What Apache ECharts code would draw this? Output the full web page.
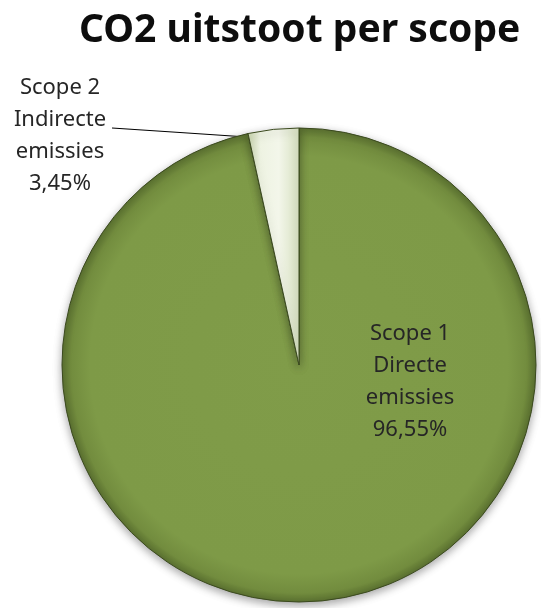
<!DOCTYPE html>
<html>
<head>
<meta charset="utf-8">
<script src="https://cdn.jsdelivr.net/npm/echarts@6/dist/echarts.min.js"></script>
<style>
html,body{margin:0;padding:0;background:#fff;}
#chart{width:541px;height:608px;}
</style>
</head>
<body>
<div id="chart"></div>
<script>
var titleText = 'CO2 uitstoot per scope';
var scopeNames = ['Scope 1', 'Scope 2'];
var scopeTypes = ['Directe emissies', 'Indirecte emissies'];
var shares = [96.55, 3.45];

var chart = echarts.init(document.getElementById('chart'), null, {renderer: 'canvas'});

var greenFill = {
  type: 'radial', x: 0.5, y: 0.5, r: 0.5,
  colorStops: [
    {offset: 0, color: '#809C49'},
    {offset: 0.88, color: '#7E9A47'},
    {offset: 0.96, color: '#728C3E'},
    {offset: 1, color: '#5A7030'}
  ]
};
var lightFill = {
  type: 'linear', x: 0, y: 0, x2: 1, y2: 0,
  colorStops: [
    {offset: 0, color: '#C8D5AC'},
    {offset: 0.25, color: '#EEF3E2'},
    {offset: 0.6, color: '#F3F6EA'},
    {offset: 1, color: '#D6E0C0'}
  ]
};

var data = scopeNames.map(function (n, i) {
  var item = {
    name: n,
    value: shares[i],
    itemStyle: {color: i === 0 ? greenFill : lightFill}
  };
  if (i === 0) {
    item.label = {position: 'inside'};
    item.labelLine = {show: false};
  }
  return item;
});

chart.setOption({
  backgroundColor: '#ffffff',
  animation: false,
  title: {
    text: titleText,
    left: 74,
    top: 6,
    textStyle: {
      fontFamily: 'Noto Sans',
      fontWeight: 'bold',
      fontSize: 39,
      color: '#0d0d0d'
    }
  },
  series: [{
    type: 'pie',
    center: [299, 365],
    radius: 237,
    startAngle: 90,
    clockwise: true,
    data: data,
    itemStyle: {
      borderColor: '#3b4a1f',
      borderWidth: 1,
      shadowBlur: 8,
      shadowOffsetY: 3,
      shadowColor: 'rgba(0,0,0,0.35)'
    },
    label: {
      show: true,
      position: 'outside',
      fontFamily: 'Noto Sans',
      fontSize: 22,
      lineHeight: 32,
      color: '#262626',
      align: 'center',
      formatter: function (p) {
        var i = p.dataIndex;
        return scopeNames[i] + '\n' + scopeTypes[i].replace(' ', '\n') + '\n' +
          shares[i].toFixed(2).replace('.', ',') + '%';
      }
    },
    labelLine: {
      show: true,
      lineStyle: {color: '#000', width: 1.2}
    },
    labelLayout: function (p) {
      if (p.dataIndex === 0) {
        return {x: 410, y: 382, align: 'center', verticalAlign: 'middle'};
      }
      return {
        x: 60, y: 136, align: 'center', verticalAlign: 'middle',
        labelLinePoints: [[247, 137], [180, 132.5], [112, 128]]
      };
    }
  }]
});
</script>
</body>
</html>
